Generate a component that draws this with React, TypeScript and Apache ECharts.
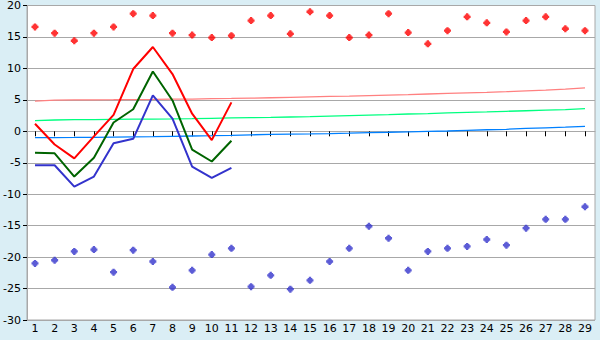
import React, { useEffect, useRef } from "react";
import * as echarts from "echarts";

const days = [1, 2, 3, 4, 5, 6, 7, 8, 9, 10, 11, 12, 13, 14, 15, 16, 17, 18, 19, 20, 21, 22, 23, 24, 25, 26, 27, 28, 29];

const highLine = [1.2, -2.1, -4.3, -0.8, 2.6, 9.9, 13.4, 9.1, 2.8, -1.4, 4.6];
const meanLine = [-3.4, -3.5, -7.2, -4.2, 1.4, 3.5, 9.5, 4.9, -2.9, -4.8, -1.5];
const lowLine = [-5.4, -5.4, -8.8, -7.2, -1.9, -1.2, 5.7, 2.0, -5.6, -7.4, -5.8];

const recordHigh = [16.6, 15.6, 14.4, 15.6, 16.6, 18.7, 18.4, 15.6, 15.3, 14.9, 15.2, 17.6, 18.4, 15.5, 19.0, 18.4, 14.9, 15.3, 18.7, 15.7, 13.9, 16.0, 18.2, 17.25, 15.8, 17.6, 18.2, 16.3, 16.0];
const recordLow = [-21.0, -20.5, -19.1, -18.8, -22.4, -18.9, -20.7, -24.8, -22.1, -19.6, -18.6, -24.7, -22.9, -25.1, -23.7, -20.7, -18.6, -15.1, -17.0, -22.1, -19.1, -18.6, -18.3, -17.2, -18.1, -15.4, -14.0, -14.0, -12.0];

const highTrend = [4.8, 4.95, 5.0, 5.0, 5.02, 5.05, 5.07, 5.1, 5.13, 5.18, 5.22, 5.27, 5.33, 5.4, 5.47, 5.54, 5.6, 5.68, 5.76, 5.84, 5.93, 6.02, 6.11, 6.2, 6.3, 6.42, 6.55, 6.7, 6.9];
const meanTrend = [1.7, 1.8, 1.85, 1.87, 1.9, 1.92, 1.95, 1.98, 2.02, 2.07, 2.12, 2.17, 2.2, 2.27, 2.33, 2.42, 2.5, 2.58, 2.65, 2.75, 2.82, 2.92, 3.0, 3.08, 3.18, 3.27, 3.36, 3.45, 3.6];
const lowTrend = [-1.0, -1.0, -0.98, -0.95, -0.92, -0.88, -0.85, -0.8, -0.75, -0.7, -0.64, -0.56, -0.5, -0.45, -0.42, -0.38, -0.3, -0.2, -0.15, -0.08, 0.0, 0.05, 0.15, 0.25, 0.32, 0.45, 0.55, 0.65, 0.78];

const yMin = -30;
const yMax = 20;
const yStep = 5;

const marker = "path://M2,0L4,0L4,1L5,1L5,2L6,2L6,4L5,4L5,5L4,5L4,6L2,6L2,5L1,5L1,4L0,4L0,2L1,2L1,1L2,1Z";
const font = "DejaVu Sans, Verdana, sans-serif";

const pairs = (vals: number[]) => vals.map((v, i) => [days[i], v]);

export default function App() {
  const ref = useRef<HTMLDivElement>(null);
  useEffect(() => {
    if (!ref.current) return;
    const chart = echarts.init(ref.current, null, { renderer: "svg" });
    const trend = (data: number[], color: string) => ({
      type: "line",
      data: pairs(data),
      symbol: "none",
      lineStyle: { color, width: 1.3 },
      z: 2,
    });
    const main = (data: number[], color: string) => ({
      type: "line",
      data: pairs(data),
      symbol: "none",
      lineStyle: { color, width: 2 },
      z: 3,
    });
    const dots = (data: number[], color: string) => ({
      type: "scatter",
      data: pairs(data),
      symbol: marker,
      symbolSize: 7,
      itemStyle: { color },
      z: 4,
    });
    chart.setOption({
      animation: false,
      backgroundColor: "#DAEEF5",
      grid: {
        left: 27,
        right: 5,
        top: 5,
        bottom: 20,
        show: true,
        backgroundColor: "#FFFFFF",
        borderColor: "#A8A8A8",
        borderWidth: 1,
      },
      xAxis: {
        type: "value",
        min: 0.593,
        max: 29.51,
        splitLine: { show: false },
        axisLine: { show: true, lineStyle: { color: "#A8A8A8", width: 1 } },
        axisTick: {
          show: true,
          customValues: days,
          length: 5,
          lineStyle: { color: "#000" },
        },
        axisLabel: {
          customValues: days,
          color: "#000",
          fontFamily: font,
          fontSize: 11,
          margin: 3,
        },
      },
      yAxis: {
        type: "value",
        min: yMin,
        max: yMax,
        interval: yStep,
        splitLine: { show: true, lineStyle: { color: "#A8A8A8", width: 1 } },
        axisLine: { show: true, lineStyle: { color: "#A8A8A8", width: 1 } },
        axisTick: { show: true, length: 4, lineStyle: { color: "#000" } },
        axisLabel: {
          color: "#000",
          fontFamily: font,
          fontSize: 11,
          margin: 6,
        },
      },
      series: [
        trend(highTrend, "#FF8080"),
        trend(meanTrend, "#00FF80"),
        trend(lowTrend, "#0080FF"),
        main(highLine, "#FF0000"),
        main(meanLine, "#006400"),
        main(lowLine, "#3333CC"),
        dots(recordHigh, "#FF0000"),
        dots(recordLow, "#3333CC"),
      ],
    });
    return () => chart.dispose();
  }, []);
  return (
    <div
      ref={ref}
      style={{ position: "fixed", left: 0, top: 0, width: 600, height: 340 }}
    />
  );
}
